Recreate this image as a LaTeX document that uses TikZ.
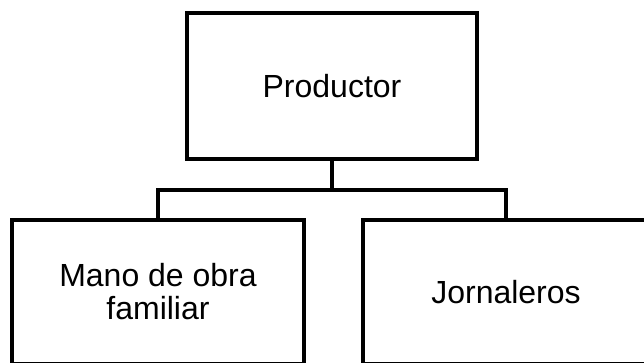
\documentclass[tikz,border=0pt]{standalone}
\usepackage{fontspec}
\setmainfont{Liberation Sans}
\begin{document}
\begin{tikzpicture}[x=1pt,y=1pt,
  box/.style={draw=black, line width=4.2pt, fill=white, inner sep=0pt,
    align=center, font=\fontsize{32}{33}\selectfont, line join=miter},
  conn/.style={draw=black, line width=4.2pt, line join=miter}]
\useasboundingbox (0,0) rectangle (644,-362);
\clip (0,0) rectangle (644,-362);
\node[box, minimum width=290pt, minimum height=146pt] (top) at (332,-86) {Productor};
\node[box, minimum width=292pt, minimum height=144pt] (left) at (158,-292) {Mano de obra\\familiar};
\node[box, minimum width=286pt, minimum height=144pt] (right) at (506,-292) {Jornaleros};
\coordinate (bar) at (0,-190);
\draw[conn] (top.south) -- (top.south |- bar);
\draw[conn] (left.north) -- (left.north |- bar) -- (right.north |- bar) -- (right.north);
\end{tikzpicture}
\end{document}
